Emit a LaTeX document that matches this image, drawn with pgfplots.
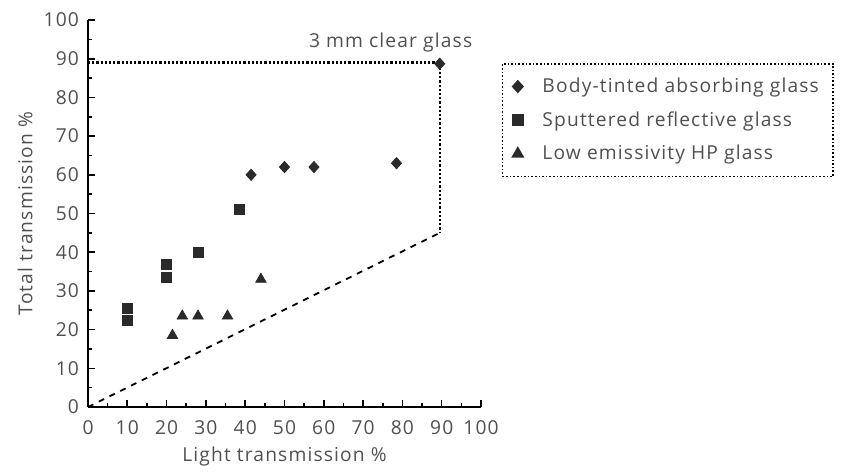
\documentclass[border=0pt]{standalone}
\usepackage{pgfplots}
\pgfplotsset{compat=1.18}
\usepackage{fontspec}
\setmainfont{Open Sans}[LetterSpace=6]
\definecolor{txt}{HTML}{505050}
\definecolor{mk}{HTML}{2A2A2A}
\newcommand{\fs}{\fontsize{9.6}{11}\selectfont}
\begin{document}
\begin{tikzpicture}[x=1pt,y=1pt]
\begin{axis}[
  scale only axis,
  width=196.5pt, height=193.5pt,
  at={(0,0)}, anchor=origin,
  xmin=0, xmax=100, ymin=0, ymax=100,
  axis x line*=bottom, axis y line*=left,
  axis line style={black, line width=0.9pt, -},
  xtick={0,10,...,100}, ytick={0,10,...,100},
  minor tick num=1,
  tick align=inside,
  major tick length=3.5pt, minor tick length=1.8pt,
  tick style={black, line width=0.8pt},
  every tick label/.append style={font=\fs, text=txt},
  /pgf/number format/assume math mode=true,
  xticklabel style={yshift=-3.5pt},
  yticklabel style={xshift=-1pt},
  xlabel={Light transmission \%},
  ylabel={Total transmission \%},
  label style={font=\fs, text=txt},
  xlabel style={at={(rel axis cs:0.5,-0.128)}, anchor=center},
  ylabel style={at={(rel axis cs:-0.16,0.5)}, anchor=center},
  clip=false,
  legend style={at={(1.053,0.889)}, anchor=north west, draw=black, densely dotted, line width=0.8pt,
    font=\fs, text=txt, inner xsep=5pt, inner ysep=5pt,
    row sep=4pt, cells={anchor=west}},
  legend image post style={solid},
]
\addplot[only marks, mark=diamond*, mark size=2.8pt, mark options={fill=mk, draw=mk, xscale=1.2}]
  coordinates {(41.5,60) (50,62) (57.5,62) (78.5,63) (89.5,88.7)};
\addlegendentry{\ \ \,Body-tinted absorbing glass}
\addplot[only marks, mark=square*, mark size=2.5pt, mark options={fill=mk, draw=mk}]
  coordinates {(10,25.5) (10,22.5) (20,36.8) (20,33.5) (28,40) (38.5,51)};
\addlegendentry{\ \ \,Sputtered reflective glass}
\addplot[only marks, mark=triangle*, mark size=3pt, mark options={fill=mk, draw=mk}]
  coordinates {(21.5,18.5) (24,23.5) (28,23.5) (35.5,23.5) (44,33)};
\addlegendentry{\ \ \,Low emissivity HP glass}
\addplot[black, line width=1.1pt, densely dotted, forget plot]
  coordinates {(0,89) (89.5,89) (89.5,45)};
\addplot[black, line width=0.9pt, dashed, forget plot]
  coordinates {(0,0) (89.5,45)};
\node[font=\fs, text=txt] at (axis cs:77,94.3) {3 mm clear glass};
\end{axis}
\path[use as bounding box] (-44pt,-33pt) rectangle (377pt,203.5pt);
\end{tikzpicture}
\end{document}
